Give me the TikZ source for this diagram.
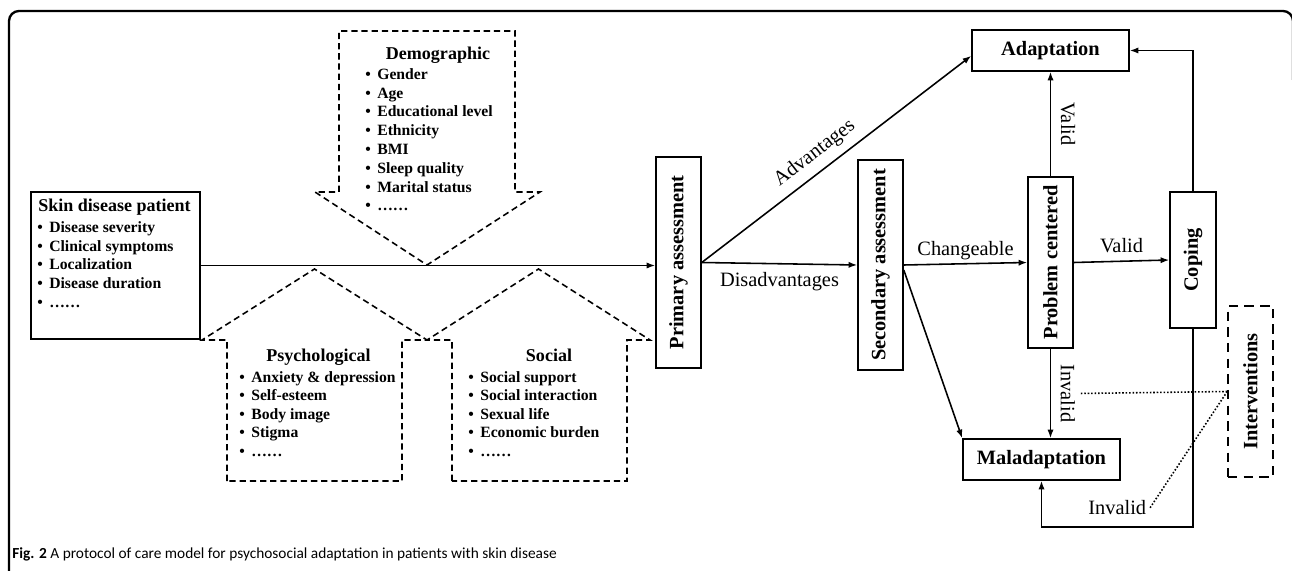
\documentclass[tikz,border=0pt]{standalone}
\usepackage{fontspec}
\setmainfont{Liberation Serif}
\newfontfamily\capfont{Carlito}
\usepackage{graphicx}
\usepackage{tikz}
\usetikzlibrary{arrows.meta}
\usetikzlibrary{calc,positioning}

\newlength\pu
\setlength\pu{0.6378pt}
\newcommand\itm{\makebox[12\pu][l]{\textbullet}}

\begin{document}
\begin{tikzpicture}[x=0.6378pt, y=-0.6378pt,
		box/.style = {draw, line width=1pt, font=\bfseries\fontsize{13}{15}\selectfont, inner sep=0pt},
		lab/.style = {font=\fontsize{13}{15}\selectfont, inner sep=2pt},
		arr/.style = {line width=1pt, -{Latex[length=5.5pt,width=4pt]}},
		dsh/.style = {line width=1pt, dash pattern=on 4pt off 2.5pt},
		dot/.style = {line width=1pt, dash pattern=on 1pt off 1.2pt},
		ttl/.style = {font=\bfseries\fontsize{11.5}{13}\selectfont, anchor=base, inner sep=0pt},
		lst/.style = {font=\bfseries\fontsize{10}{12}\selectfont, align=left, anchor=base west, inner sep=0pt},
	]
	\useasboundingbox (0,0) rectangle (1292,571);
	\draw[line width=1.5pt, rounded corners=10*\pu] (9,600) -- (9,11) -- (1293,11) -- (1293,80);

	% factors (list nodes sit on the baseline of their last line)
	\node[box, minimum width=169*\pu, minimum height=147*\pu] (skin) at (115.5,265.5) {};
	\node[ttl] (skint) at (114.5,212) {Skin disease patient};
	\node[lst] (skinl) at (37,307.5) {\itm Disease severity\\ \itm Clinical symptoms\\ \itm Localization\\ \itm Disease duration\\ \itm ……};

	\draw[dsh] (339,192) -- (339,31) -- (515,31) -- (515,192) -- (540,192) -- (427,265) -- (315,192) -- cycle;
	\node[ttl] (demot) at (438,60) {Demographic};
	\node[lst] (demol) at (365,211) {\itm Gender\\ \itm Age\\ \itm Educational level\\ \itm Ethnicity\\ \itm BMI\\ \itm Sleep quality\\ \itm Marital status\\ \itm ……};

	\draw[dsh] (227,481) -- (227,340) -- (202,340) -- (314.5,269) -- (427,340) -- (402,340) -- (402,481) -- cycle;
	\node[ttl] (psyt) at (318.5,362) {Psychological};
	\node[lst, font=\bfseries\fontsize{10}{11.75}\selectfont] (psyl) at (239,456) {\itm Anxiety \& depression\\ \itm Self-esteem\\ \itm Body image\\ \itm Stigma\\ \itm ……};

	\draw[dsh] (452,481) -- (452,340) -- (427,340) -- (538.5,269) -- (650,340) -- (627,340) -- (627,481) -- cycle;
	\node[ttl] (soct) at (549,362) {Social};
	\node[lst, font=\bfseries\fontsize{10}{11.75}\selectfont] (socl) at (468,456) {\itm Social support\\ \itm Social interaction\\ \itm Sexual life\\ \itm Economic burden\\ \itm ……};

	% process
	\node[box, minimum width=45*\pu, minimum height=211*\pu] (prim) at (678.5,262.5) {\rotatebox{90}{Primary assessment}};
	\node[box, minimum width=45*\pu, minimum height=210*\pu] (sec) at (880.5,265) {\rotatebox{90}{Secondary assessment}};
	\node[box, minimum width=157*\pu, minimum height=41*\pu] (adapt) at (1050.5,50.5) {Adaptation};
	\node[box, minimum width=45*\pu, minimum height=171*\pu] (prob) at (1050.5,262.5) {\rotatebox{90}{Problem centered}};
	\node[box, minimum width=46*\pu, minimum height=136*\pu] (cop) at (1193,260) {\rotatebox{90}{Coping}};
	\node[box, minimum width=157*\pu, minimum height=41*\pu] (malad) at (1041.5,459.5) {Maladaptation};
	\node[box, dash pattern=on 6pt off 4pt, minimum width=45*\pu, minimum height=171*\pu] (intv) at (1250.5,391.5) {\rotatebox{90}{Interventions}};

	\draw[arr] (skin.east) -- (skin.east -| prim.west);
	\draw[arr] (prim.east) -- node[lab, sloped, above=3pt, pos=0.46] (advl) {Advantages} ($(adapt.west)!0.25!(adapt.south west)$);
	\draw[arr] (prim.east) -- node[lab, below=3pt] (disl) {Disadvantages} (sec.west);
	\draw[arr] (sec.east) -- node[lab, above] (chgl) {Changeable} (prob.west);
	\draw[arr] ($(sec.east)+(0,5)$) -- (malad.north west);
	\draw[arr] (prob.north) -- node[lab, right=4pt] (val1) {\rotatebox{-90}{Valid}} (adapt.south);
	\draw[arr] (prob.east) -- node[lab, above=3pt] (val2) {Valid} (cop.west);
	\draw[arr] (prob.south) -- node[lab, right=4pt] (inv1) {\rotatebox{-90}{Invalid}} (prob.south |- malad.north);
	\draw[arr] (cop.north) |- (adapt.east);
	\draw[arr] (cop.south) |- ($(malad.south)+(0,46)$) node[lab, pos=0.75, above=5pt] (inv2) {Invalid} -- (malad.south);

	\draw[dot] (intv.west) -- (inv1.east);
	\draw[dot] (intv.west) -- (inv2.east);

	\node[anchor=base west, inner sep=0pt, font=\capfont\fontsize{9.8}{11}\selectfont] (cap) at (12,558) {\textbf{Fig. 2} A protocol of care model for psychosocial adaptation in patients with skin disease};
\end{tikzpicture}
\end{document}
